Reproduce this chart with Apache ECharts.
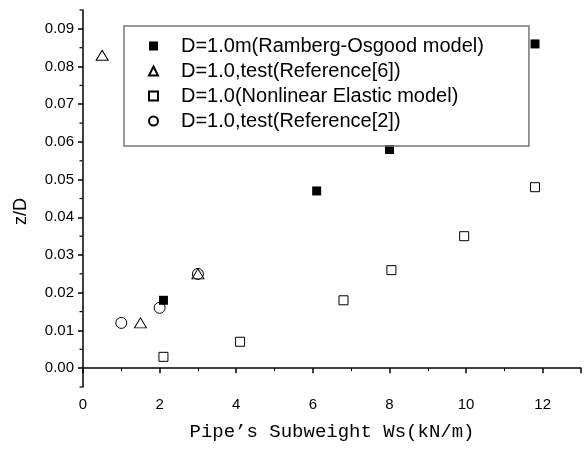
<!DOCTYPE html>
<html>
<head>
<meta charset="utf-8">
<script src="https://cdn.jsdelivr.net/npm/echarts@6/dist/echarts.min.js"></script>
<style>html,body{margin:0;padding:0;background:#fff;}</style>
</head>
<body>
<div id="chart" style="width:584px;height:451px;"></div>
<script type="text/javascript">
	// data: [Ws (kN/m), z/D]
	var rambergOsgood = [[2.1, 0.018], [6.1, 0.047], [8.0, 0.058], [11.8, 0.086]];
	var testRef6 = [[0.5, 0.083], [1.5, 0.012], [3.0, 0.025]];
	var nonlinearElastic = [[2.1, 0.003], [4.1, 0.007], [6.8, 0.018], [8.05, 0.026], [9.95, 0.035], [11.8, 0.048]];
	var testRef2 = [[1.0, 0.012], [2.0, 0.016], [3.0, 0.025]];
	var seriesNames = ['D=1.0m(Ramberg-Osgood model)', 'D=1.0,test(Reference[6])', 'D=1.0(Nonlinear Elastic model)', 'D=1.0,test(Reference[2])'];
	var yTicks = [0, 0.01, 0.02, 0.03, 0.04, 0.05, 0.06, 0.07, 0.08, 0.09];
	var yMinorTicks = [-0.005, 0.005, 0.015, 0.025, 0.035, 0.045, 0.055, 0.065, 0.075, 0.085, 0.095];

	var thechart = echarts.init(document.getElementById('chart'));
	var hollow = {color: '#fff', borderColor: '#000', borderWidth: 1, opacity: 1};
	var theoption = {
		animation: false,
		grid: {left: 83, right: 1, top: 10, bottom: 64},
		legend: {
			orient: 'vertical',
			left: 124, top: 26,
			padding: [10, 45, 15, 24],
			itemGap: 5,
			itemWidth: 9, itemHeight: 9,
			borderColor: '#777', borderWidth: 1.5,
			textStyle: {fontFamily: 'Liberation Sans', fontSize: 20, lineHeight: 20, color: '#000', padding: [0, 0, 0, 18]},
			data: seriesNames
		},
		xAxis: {
			type: 'value', min: 0, max: 13, interval: 2,
			name: 'Pipe\u2019s Subweight Ws(kN/m)',
			nameLocation: 'middle', nameGap: 35,
			nameTextStyle: {fontFamily: 'Liberation Mono', fontSize: 19, color: '#000'},
			axisLine: {lineStyle: {color: '#000', width: 1.5}},
			axisTick: {inside: false, length: 5, lineStyle: {color: '#000', width: 1.5}},
			minorTick: {show: true, splitNumber: 2, length: 3, lineStyle: {color: '#000'}},
			axisLabel: {fontFamily: 'Liberation Sans', fontSize: 15, color: '#000', margin: 10,
				formatter: function(v){ return v > 12 ? '' : v; }},
			splitLine: {show: false}
		},
		yAxis: {
			type: 'value', min: -0.005, max: 0.095,
			name: 'z/D',
			nameLocation: 'middle', nameGap: 53,
			nameTextStyle: {fontFamily: 'Liberation Sans', fontSize: 18, color: '#000', padding: [0, 26, 0, 0]},
			axisLine: {lineStyle: {color: '#000', width: 1.5}},
			axisTick: {length: 5, lineStyle: {color: '#000', width: 1.5}, customValues: yTicks},
			minorTick: {show: false},
			axisLabel: {fontFamily: 'Liberation Sans', fontSize: 15, color: '#000', margin: 9,
				customValues: yTicks,
				formatter: function(v){ return v.toFixed(2); }},
			splitLine: {show: false}
		},
		series: [
			{name: seriesNames[0], type: 'scatter', symbol: 'rect', symbolSize: 9,
				itemStyle: {color: '#000', opacity: 1}, data: rambergOsgood},
			{name: seriesNames[1], type: 'scatter', symbol: 'triangle', symbolSize: [12, 10],
				itemStyle: hollow, data: testRef6},
			{name: seriesNames[2], type: 'scatter', symbol: 'rect', symbolSize: 9,
				itemStyle: hollow, data: nonlinearElastic},
			{name: seriesNames[3], type: 'scatter', symbol: 'circle', symbolSize: 11,
				itemStyle: {color: 'rgba(255,255,255,0)', borderColor: '#000', borderWidth: 1, opacity: 1}, data: testRef2},
			// minor ticks on the y axis at the half steps
			{type: 'scatter', silent: true, symbol: 'rect', symbolSize: [3, 1.2], symbolOffset: [-2, 0],
				itemStyle: {color: '#000', opacity: 1},
				data: yMinorTicks.map(function(v){ return [0, v]; })}
		]
	};
	thechart.setOption(theoption, true);
</script>
</body>
</html>
